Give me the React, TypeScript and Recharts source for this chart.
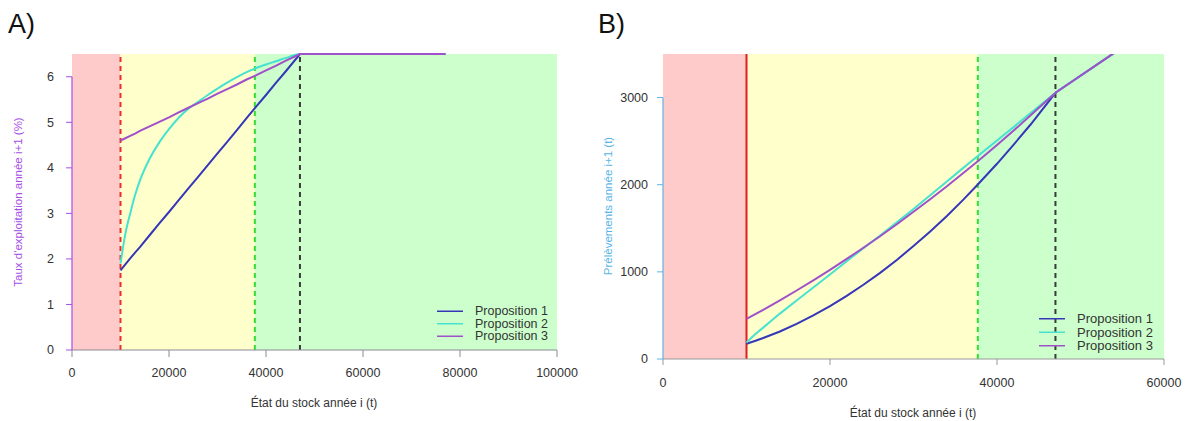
import React from "react";
import { LineChart, Line, XAxis, YAxis, ReferenceArea, ReferenceLine } from "recharts";

// ---------- data ----------
const stock = [10000, 11000, 12000, 13000, 14000, 16000, 18000, 20000, 22000, 24000, 26000, 28000, 30000, 32000, 34000, 36000, 37700, 40000, 42000, 44000, 47000, 50000, 54000, 60000, 77000];

// exploitation rate year i+1 (%)
const rate1 = [1.75, 1.88, 2.01, 2.14, 2.26, 2.52, 2.78, 3.03, 3.29, 3.55, 3.8, 4.06, 4.32, 4.57, 4.83, 5.09, 5.31, 5.6, 5.86, 6.11, 6.5, 6.5, 6.5, 6.5, 6.5];
const rate2 = [1.9, 2.55, 3.0, 3.4, 3.72, 4.2, 4.56, 4.85, 5.1, 5.3, 5.45, 5.6, 5.74, 5.87, 5.99, 6.1, 6.18, 6.27, 6.34, 6.41, 6.5, 6.5, 6.5, 6.5, 6.5];
const rate3 = [4.6, 4.65, 4.7, 4.75, 4.81, 4.91, 5.01, 5.11, 5.22, 5.32, 5.42, 5.52, 5.63, 5.73, 5.83, 5.94, 6.02, 6.14, 6.24, 6.35, 6.5, 6.5, 6.5, 6.5, 6.5];

// catches year i+1 (t)
const catch1 = [175, 207, 241, 278, 316, 403, 500, 606, 724, 852, 988, 1137, 1296, 1462, 1642, 1832, 2002, 2240, 2461, 2688, 3055, 3250, 3510, 3900, 5005];
const catch2 = [190, 281, 360, 442, 521, 672, 821, 970, 1122, 1272, 1417, 1568, 1722, 1878, 2037, 2196, 2330, 2508, 2663, 2820, 3055, 3250, 3510, 3900, 5005];
const catch3 = [460, 512, 564, 618, 673, 786, 902, 1022, 1148, 1277, 1409, 1546, 1689, 1834, 1982, 2138, 2270, 2456, 2621, 2794, 3055, 3250, 3510, 3900, 5005];

const seriesNames = ["Proposition 1", "Proposition 2", "Proposition 3"];
const thresholds = [10000, 37700, 47000]; // limit, precaution, target

const ticksXA = [0, 20000, 40000, 60000, 80000, 100000];
const ticksYA = [0, 1, 2, 3, 4, 5, 6];
const ticksXB = [0, 20000, 40000, 60000];
const ticksYB = [0, 1000, 2000, 3000];

const dataA = stock.map((s, i) => ({ stock: s, p1: rate1[i], p2: rate2[i], p3: rate3[i] }));
const dataB = stock.map((s, i) => ({ stock: s, p1: catch1[i], p2: catch2[i], p3: catch3[i] }));

// ---------- styles ----------
const FONT = "'Liberation Sans', Arial, Helvetica, sans-serif";
const C1 = "#3636b8";
const C2 = "#45e3cf";
const C3 = "#a050c8";
const colors = [C1, C2, C3];
const PINK = "#ffcaca";
const YELLOW = "#ffffcc";
const GREEN = "#ccffcc";
const RED = "#e8302c";
const GDASH = "#33dd33";
const BDASH = "#3a3a3a";
const PURPLE_AX = "#a64ee8";
const BLUE_AX = "#5ab4e6";
const TICK_TXT = { fill: "#333", fontSize: 12.5, fontFamily: FONT };

function LegendOverlay({ left, top, dy, fs }: { left: number; top: number; dy: number; fs: number }) {
  return (
    <svg
      width={130}
      height={dy * 3 + 4}
      style={{ position: "absolute", left, top: top - dy / 2 - 2, pointerEvents: "none", overflow: "visible" }}
    >
      {seriesNames.map((n, i) => (
        <g key={n}>
          <line x1={0} x2={26} y1={dy / 2 + 2 + i * dy} y2={dy / 2 + 2 + i * dy} stroke={colors[i]} strokeWidth={1.5} />
          <text x={38} y={dy / 2 + 2 + i * dy} dominantBaseline="central" fontSize={fs} fontFamily={FONT} fill="#333">
            {n}
          </text>
        </g>
      ))}
    </svg>
  );
}

export default function App() {
  return (
    <div style={{ position: "absolute", left: 0, top: 0, width: 1187, height: 421, background: "#fff" }}>
      {/* Panel A */}
      <div style={{ position: "absolute", left: 0, top: 0, width: 580, height: 421 }}>
        <LineChart width={580} height={421} data={dataA} margin={{ top: 54, right: 23, bottom: 0, left: 12 }}>
          <XAxis
            type="number"
            dataKey="stock"
            domain={[0, 100000]}
            ticks={ticksXA}
            interval={0}
            height={71}
            axisLine={{ stroke: "#8c8a98" }}
            tickLine={{ stroke: "#8c8a98" }}
            tickSize={7}
            tickMargin={11}
            tick={TICK_TXT}
          />
          <YAxis
            type="number"
            domain={[0, 6.5]}
            ticks={ticksYA}
            interval={0}
            width={60}
            axisLine={false}
            tickLine={{ stroke: PURPLE_AX }}
            tickSize={6}
            tickMargin={12}
            tick={TICK_TXT}
          />
          <ReferenceArea x1={0} x2={thresholds[0]} fill={PINK} fillOpacity={1} stroke="none" />
          <ReferenceArea x1={thresholds[0]} x2={thresholds[1]} fill={YELLOW} fillOpacity={1} stroke="none" />
          <ReferenceArea x1={thresholds[1]} x2={100000} fill={GREEN} fillOpacity={1} stroke="none" />
          <ReferenceLine segment={[{ x: 0, y: 0 }, { x: 0, y: 6 }]} stroke={PURPLE_AX} strokeWidth={1.2} />
          <ReferenceLine x={thresholds[0]} stroke={RED} strokeWidth={2} strokeDasharray="5 4" />
          <ReferenceLine x={thresholds[1]} stroke={GDASH} strokeWidth={2} strokeDasharray="5 4" />
          <ReferenceLine x={thresholds[2]} stroke={BDASH} strokeWidth={2} strokeDasharray="5 4" />
          <Line type="linear" dataKey="p1" name={seriesNames[0]} stroke={C1} strokeWidth={2} dot={false} activeDot={false} isAnimationActive={false} />
          <Line type="monotone" dataKey="p2" name={seriesNames[1]} stroke={C2} strokeWidth={2} dot={false} activeDot={false} isAnimationActive={false} />
          <Line type="linear" dataKey="p3" name={seriesNames[2]} stroke={C3} strokeWidth={2} dot={false} activeDot={false} isAnimationActive={false} />
          <text x={8} y={33} fontSize={27} fontFamily={FONT} fill="#111">A)</text>
          <text
            x={18}
            y={202}
            transform="rotate(-90 18 202)"
            textAnchor="middle"
            dominantBaseline="central"
            fontSize={11.5}
            fontFamily={FONT}
            fill={PURPLE_AX}
          >
            Taux d'exploitation année i+1 (%)
          </text>
          <text x={314} y={407} textAnchor="middle" fontSize={12} fontFamily={FONT} fill="#333">
            État du stock année i (t)
          </text>
        </LineChart>
        <LegendOverlay left={437} top={311} dy={12.5} fs={12.5} />
      </div>

      {/* Panel B */}
      <div style={{ position: "absolute", left: 580, top: 0, width: 607, height: 421 }}>
        <LineChart width={607} height={421} data={dataB} margin={{ top: 54, right: 23, bottom: 0, left: 23 }}>
          <XAxis
            type="number"
            dataKey="stock"
            domain={[0, 60000]}
            allowDataOverflow
            ticks={ticksXB}
            interval={0}
            height={62}
            axisLine={{ stroke: "#999" }}
            tickLine={{ stroke: "#999" }}
            tickSize={6}
            tickMargin={13}
            tick={TICK_TXT}
          />
          <YAxis
            type="number"
            domain={[0, 3500]}
            allowDataOverflow
            ticks={ticksYB}
            interval={0}
            width={60}
            axisLine={false}
            tickLine={{ stroke: BLUE_AX }}
            tickSize={6}
            tickMargin={9}
            tick={TICK_TXT}
          />
          <ReferenceArea x1={0} x2={thresholds[0]} fill={PINK} fillOpacity={1} stroke="none" />
          <ReferenceArea x1={thresholds[0]} x2={thresholds[1]} fill={YELLOW} fillOpacity={1} stroke="none" />
          <ReferenceArea x1={thresholds[1]} x2={60000} fill={GREEN} fillOpacity={1} stroke="none" />
          <ReferenceLine segment={[{ x: 0, y: 0 }, { x: 0, y: 3000 }]} stroke={BLUE_AX} strokeWidth={1.2} />
          <ReferenceLine x={thresholds[0]} stroke="#dd1f1f" strokeWidth={2} />
          <ReferenceLine x={thresholds[1]} stroke={GDASH} strokeWidth={2} strokeDasharray="5 4" />
          <ReferenceLine x={thresholds[2]} stroke={BDASH} strokeWidth={2} strokeDasharray="5 4" />
          <Line type="linear" dataKey="p1" name={seriesNames[0]} stroke={C1} strokeWidth={2} dot={false} activeDot={false} isAnimationActive={false} />
          <Line type="linear" dataKey="p2" name={seriesNames[1]} stroke={C2} strokeWidth={2} dot={false} activeDot={false} isAnimationActive={false} />
          <Line type="linear" dataKey="p3" name={seriesNames[2]} stroke={C3} strokeWidth={2} dot={false} activeDot={false} isAnimationActive={false} />
          <text x={18} y={33} fontSize={27} fontFamily={FONT} fill="#111">B)</text>
          <text
            x={28}
            y={206}
            transform="rotate(-90 28 206)"
            textAnchor="middle"
            dominantBaseline="central"
            fontSize={11.5}
            fontFamily={FONT}
            fill={BLUE_AX}
          >
            Prélèvements année i+1 (t)
          </text>
          <text x={333} y={417} textAnchor="middle" fontSize={12} fontFamily={FONT} fill="#333">
            État du stock année i (t)
          </text>
        </LineChart>
        <LegendOverlay left={459} top={319} dy={13.5} fs={13} />
      </div>
    </div>
  );
}
